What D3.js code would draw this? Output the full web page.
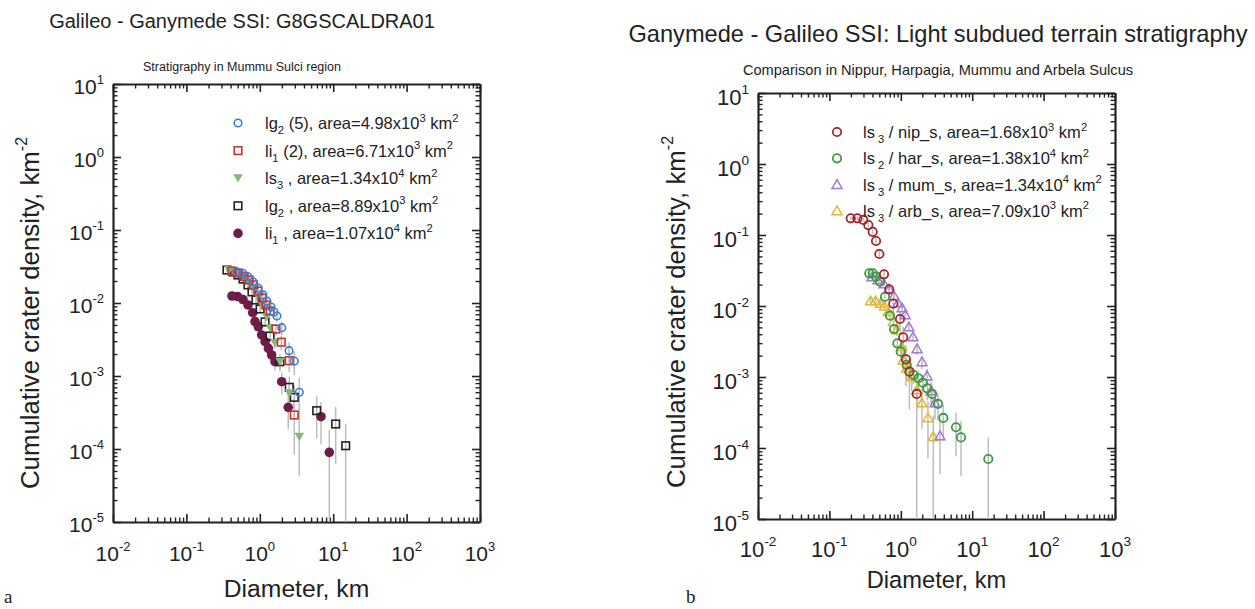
<!DOCTYPE html>
<html>
<head>
<meta charset="utf-8">
<script src="https://cdn.jsdelivr.net/npm/d3@7"></script>
<style>
  body { margin: 0; background: #fff; }
  svg text { font-family: "Liberation Sans", Arial, sans-serif; fill: #222; }
</style>
</head>
<body>
<svg id="chart" width="1255" height="609"></svg>
<script>
// ---- data: [diameter km, cumulative density km^-2] ----
// panel a: Mummu Sulci region
var aLg2five = [[0.484,0.0268],[0.585,0.0255],[0.690,0.0229],[0.807,0.0196],[0.944,0.0160],[1.106,0.0129],[1.25,0.0106],[1.42,0.0088],[1.56,0.00753],[1.71,0.00664],[1.99,0.00459],[2.50,0.00222],[2.95,0.0016],[3.45,0.000598]];
var aLi1two = [[0.418,0.0274],[0.504,0.0258],[0.610,0.0231],[0.713,0.0207],[0.821,0.0177],[0.944,0.0146],[1.07,0.0117],[1.21,0.0094],[1.38,0.00777],[1.66,0.0044],[1.96,0.0029],[2.52,0.00162],[2.95,0.000292]];
var aLs3 = [[0.380,0.0283],[0.459,0.0266],[0.537,0.0242],[0.628,0.0213],[0.734,0.0182],[0.834,0.0151],[0.944,0.0121],[1.07,0.0094],[1.24,0.00643],[1.38,0.00455],[1.61,0.00283],[1.88,0.00157],[2.52,0.00058],[3.45,0.000147]];
var aLg2 = [[0.357,0.0283],[0.432,0.0266],[0.504,0.0242],[0.590,0.0213],[0.690,0.0177],[0.783,0.0142],[0.887,0.011],[1.01,0.00828],[1.18,0.0055],[1.38,0.00353],[1.88,0.00157],[2.52,0.0007],[2.95,0.00051],[5.96,0.000335],[10.8,0.00022],[14.8,0.000111]];
var aLi1 = [[0.418,0.01247],[0.497,0.01228],[0.590,0.01117],[0.690,0.0094],[0.80,0.00736],[0.861,0.00555],[0.955,0.00473],[1.06,0.00365],[1.18,0.00295],[1.31,0.00239],[1.45,0.00194],[1.61,0.00157],[1.99,0.000836],[2.44,0.000372],[6.82,0.000277],[8.85,0.00009]];
var aAreas = [4980, 6710, 13400, 8890, 10700];

// panel b: light subdued terrain
var bNip = [[0.199,0.172],[0.246,0.172],[0.299,0.163],[0.351,0.138],[0.404,0.111],[0.450,0.0823],[0.500,0.054],[0.582,0.0279],[0.690,0.0172],[0.785,0.0108],[0.975,0.00656],[1.08,0.00362],[1.18,0.00177],[1.32,0.00119],[1.67,0.000577]];
var bHar = [[0.362,0.0289],[0.404,0.0289],[0.450,0.0259],[0.512,0.022],[0.601,0.0135],[0.706,0.0073],[0.804,0.00474],[0.894,0.00298],[0.998,0.00227],[1.21,0.00148],[1.50,0.00107],[1.76,0.00096],[2.03,0.00083],[2.35,0.000693],[2.74,0.000577],[3.32,0.000417],[3.94,0.000265],[5.93,0.000196],[6.97,0.000141],[16.8,0.00007]];
var bMum = [[0.395,0.0256],[0.480,0.0232],[0.582,0.0204],[0.684,0.0173],[0.804,0.0138],[0.914,0.0110],[1.04,0.00937],[1.15,0.00747],[1.30,0.00506],[1.48,0.00366],[1.69,0.00248],[1.98,0.00163],[2.33,0.00103],[2.65,0.000635],[3.01,0.00043],[3.54,0.000148]];
var bArb = [[0.377,0.01175],[0.443,0.01175],[0.520,0.0109],[0.592,0.0099],[0.668,0.0083],[0.785,0.0060],[0.877,0.00459],[1.03,0.00267],[1.08,0.00173],[1.21,0.00133],[1.42,0.00101],[1.69,0.000656],[1.98,0.00043],[2.40,0.000265],[2.85,0.000144]];
var bAreas = [1680, 13800, 13400, 7090];

var xDecades = [1e-2, 1e-1, 1e0, 1e1, 1e2, 1e3];
var xExponents = ["-2", "-1", "0", "1", "2", "3"];
var yDecades = [1e-5, 1e-4, 1e-3, 1e-2, 1e-1, 1e0, 1e1];
var yExponents = ["-5", "-4", "-3", "-2", "-1", "0", "1"];

// legend labels: [text, 'sub'|'sup'|'']
var aLegend = [
  [["lg",""],["2","sub"],[" (5), area=4.98x10",""],["3","sup"],[" km",""],["2","sup"]],
  [["li",""],["1","sub"],[" (2), area=6.71x10",""],["3","sup"],[" km",""],["2","sup"]],
  [["ls",""],["3","sub"],[" , area=1.34x10",""],["4","sup"],[" km",""],["2","sup"]],
  [["lg",""],["2","sub"],[" , area=8.89x10",""],["3","sup"],[" km",""],["2","sup"]],
  [["li",""],["1","sub"],[" , area=1.07x10",""],["4","sup"],[" km",""],["2","sup"]]
];
var bLegend = [
  [["ls",""],[" 3","sub"],[" / nip_s, area=1.68x10",""],["3","sup"],[" km",""],["2","sup"]],
  [["ls",""],[" 2","sub"],[" / har_s, area=1.38x10",""],["4","sup"],[" km",""],["2","sup"]],
  [["ls",""],[" 3","sub"],[" / mum_s, area=1.34x10",""],["4","sup"],[" km",""],["2","sup"]],
  [["ls",""],[" 3","sub"],[" / arb_s, area=7.09x10",""],["3","sup"],[" km",""],["2","sup"]]
];

var svg = d3.select("#chart");

// rich text with sub/superscripts via tspans
function richText(sel, parts, size) {
  var off = 0;
  parts.forEach(function(p) {
    var target = p[1] === "sub" ? 0.3 * size : (p[1] === "sup" ? -0.45 * size : 0);
    sel.append("tspan")
      .attr("dy", target - off)
      .attr("font-size", p[1] ? size * 0.68 : size)
      .text(p[0]);
    off = target;
  });
}

function marker(g, kind, color) {
  if (kind === "circle") {
    g.append("circle").attr("r", 3.8).attr("fill", "none").attr("stroke", color).attr("stroke-width", 1.6);
  } else if (kind === "square") {
    g.append("rect").attr("x", -3.8).attr("y", -3.8).attr("width", 7.6).attr("height", 7.6)
      .attr("fill", "none").attr("stroke", color).attr("stroke-width", 1.6);
  } else if (kind === "triDown") {
    g.append("path").attr("d", "M-4.8,-4L4.8,-4L0,4.4Z").attr("fill", color);
  } else if (kind === "dot") {
    g.append("circle").attr("r", 4.8).attr("fill", color);
  } else if (kind === "ring") {
    g.append("circle").attr("r", 4.2).attr("fill", "none").attr("stroke", color).attr("stroke-width", 1.8);
  } else if (kind === "triUp") {
    g.append("path").attr("d", "M0,-5L5,3.8L-5,3.8Z").attr("fill", "none").attr("stroke", color).attr("stroke-width", 1.5);
  }
}

function panel(opt) {
  var x = d3.scaleLog().domain([1e-2, 1e3]).range([opt.left, opt.right]);
  var y = d3.scaleLog().domain([1e-5, 10]).range([opt.bottom, opt.top]);
  var g = svg.append("g");

  var xMinor = [], yMinor = [];
  for (var e = -2; e < 3; e++) for (var k = 2; k < 10; k++) xMinor.push(k * Math.pow(10, e));
  for (var e2 = -5; e2 < 1; e2++) for (var k2 = 2; k2 < 10; k2++) yMinor.push(k2 * Math.pow(10, e2));

  var axes = [
    [d3.axisBottom(x), "translate(0," + opt.bottom + ")", xDecades, xMinor],
    [d3.axisTop(x), "translate(0," + opt.top + ")", xDecades, xMinor],
    [d3.axisLeft(y), "translate(" + opt.left + ",0)", yDecades, yMinor],
    [d3.axisRight(y), "translate(" + opt.right + ",0)", yDecades, yMinor]
  ];
  axes.forEach(function(a) {
    var minor = g.append("g").attr("transform", a[1])
      .call(a[0].tickValues(a[3]).tickSize(-4.5).tickSizeOuter(0).tickFormat(""));
    minor.select(".domain").remove();
    minor.selectAll("line").attr("stroke", "#222").attr("stroke-width", 1.4);
    var major = g.append("g").attr("transform", a[1])
      .call(a[0].tickValues(a[2]).tickSize(-8).tickSizeOuter(0).tickFormat(""));
    major.select(".domain").attr("stroke", "#222").attr("stroke-width", 2.2);
    major.selectAll("line").attr("stroke", "#222").attr("stroke-width", 1.6);
  });

  // tick labels
  var fs = opt.tickFont;
  xDecades.forEach(function(v, i) {
    var t = g.append("text").attr("x", x(v)).attr("y", opt.bottom + opt.xLabelDy)
      .attr("text-anchor", "middle").attr("font-size", fs);
    t.append("tspan").text("10");
    t.append("tspan").attr("dy", -0.5 * fs).attr("font-size", fs * 0.62).text(xExponents[i]);
  });
  yDecades.forEach(function(v, i) {
    var t = g.append("text").attr("x", opt.left - opt.yLabelDx).attr("y", y(v) + opt.yLabelDy)
      .attr("text-anchor", "end").attr("font-size", fs);
    t.append("tspan").text("10");
    t.append("tspan").attr("dy", -0.5 * fs).attr("font-size", fs * 0.62).text(yExponents[i]);
  });

  // axis titles
  g.append("text").attr("x", (opt.left + opt.right) / 2).attr("y", opt.xTitleY)
    .attr("text-anchor", "middle").attr("font-size", opt.xTitleFont).text("Diameter, km");
  var yt = g.append("text").attr("transform", "translate(" + opt.yTitleX + "," + opt.yTitleY + ") rotate(-90)")
    .attr("text-anchor", "middle").attr("font-size", 25.8);
  yt.append("tspan").text("Cumulative crater density, km");
  yt.append("tspan").attr("dy", -12).attr("font-size", 16).text("-2");

  // titles
  g.append("text").attr("x", opt.titleX).attr("y", opt.titleY).attr("text-anchor", "middle")
    .attr("font-size", opt.titleFont).text(opt.title);
  g.append("text").attr("x", opt.titleX).attr("y", opt.subY).attr("text-anchor", "middle")
    .attr("font-size", opt.subFont).attr("fill", "#333").text(opt.subtitle);

  // error bars (Poisson, from legend areas), then markers, last legend entry drawn first
  var order = d3.range(opt.series.length).reverse();
  order.forEach(function(si) {
    var s = opt.series[si];
    g.append("g").selectAll("line").data(s.data).enter().append("line")
      .attr("x1", function(d) { return x(d[0]); })
      .attr("x2", function(d) { return x(d[0]); })
      .attr("y1", function(d) { return y(d[1] + Math.sqrt(d[1] / s.area)); })
      .attr("y2", function(d) { return y(Math.max(d[1] - Math.sqrt(d[1] / s.area), 1e-5)); })
      .attr("stroke", "#bdbdbd").attr("stroke-width", 1.5);
  });
  order.forEach(function(si) {
    var s = opt.series[si];
    g.append("g").selectAll("g").data(s.data).enter().append("g")
      .attr("transform", function(d) { return "translate(" + x(d[0]) + "," + y(d[1]) + ")"; })
      .each(function() { marker(d3.select(this), s.kind, s.color); });
  });

  // legend
  opt.series.forEach(function(s, i) {
    var ly = opt.legY + i * opt.legStep;
    marker(g.append("g").attr("transform", "translate(" + opt.legX + "," + ly + ")"), s.kind, s.color);
    var t = g.append("text").attr("x", opt.legX + opt.legTextDx).attr("y", ly + 6).attr("font-size", 16.5);
    richText(t, opt.legend[i], 16.5);
  });

  g.append("text").attr("x", opt.tagX).attr("y", 603)
    .style("font-family", "'Liberation Serif', 'Times New Roman', serif")
    .attr("font-size", 19).text(opt.tag);
}

panel({
  left: 113, right: 480, top: 84, bottom: 522,
  tickFont: 21, xLabelDy: 39, yLabelDx: 9, yLabelDy: 10,
  xTitleY: 597, xTitleFont: 24.7, yTitleX: 39, yTitleY: 313,
  title: "Galileo - Ganymede SSI: G8GSCALDRA01", titleX: 242, titleY: 28, titleFont: 20,
  subtitle: "Stratigraphy in Mummu Sulci region", subY: 71, subFont: 12.5,
  legX: 238, legY: 123, legStep: 27.6, legTextDx: 27, legend: aLegend, tag: "a", tagX: 4,
  series: [
    { data: aLg2five, area: aAreas[0], kind: "circle", color: "#3a7fd8" },
    { data: aLi1two, area: aAreas[1], kind: "square", color: "#c8352e" },
    { data: aLs3, area: aAreas[2], kind: "triDown", color: "#8db57b" },
    { data: aLg2, area: aAreas[3], kind: "square", color: "#222" },
    { data: aLi1, area: aAreas[4], kind: "dot", color: "#6e1c4a" }
  ]
});

panel({
  left: 758, right: 1115, top: 93, bottom: 519,
  tickFont: 22, xLabelDy: 38, yLabelDx: 9, yLabelDy: 12,
  xTitleY: 588, xTitleFont: 23.7, yTitleX: 685, yTitleY: 312,
  title: "Ganymede - Galileo SSI: Light subdued terrain stratigraphy", titleX: 938, titleY: 42, titleFont: 23.6,
  subtitle: "Comparison in Nippur, Harpagia, Mummu and Arbela Sulcus", subY: 75, subFont: 14.6,
  legX: 837, legY: 132, legStep: 26.3, legTextDx: 26, legend: bLegend, tag: "b", tagX: 686,
  series: [
    { data: bNip, area: bAreas[0], kind: "ring", color: "#a3282d" },
    { data: bHar, area: bAreas[1], kind: "ring", color: "#3d9b3d" },
    { data: bMum, area: bAreas[2], kind: "triUp", color: "#a27bd9" },
    { data: bArb, area: bAreas[3], kind: "triUp", color: "#e2b92c" }
  ]
});
</script>
</body>
</html>
